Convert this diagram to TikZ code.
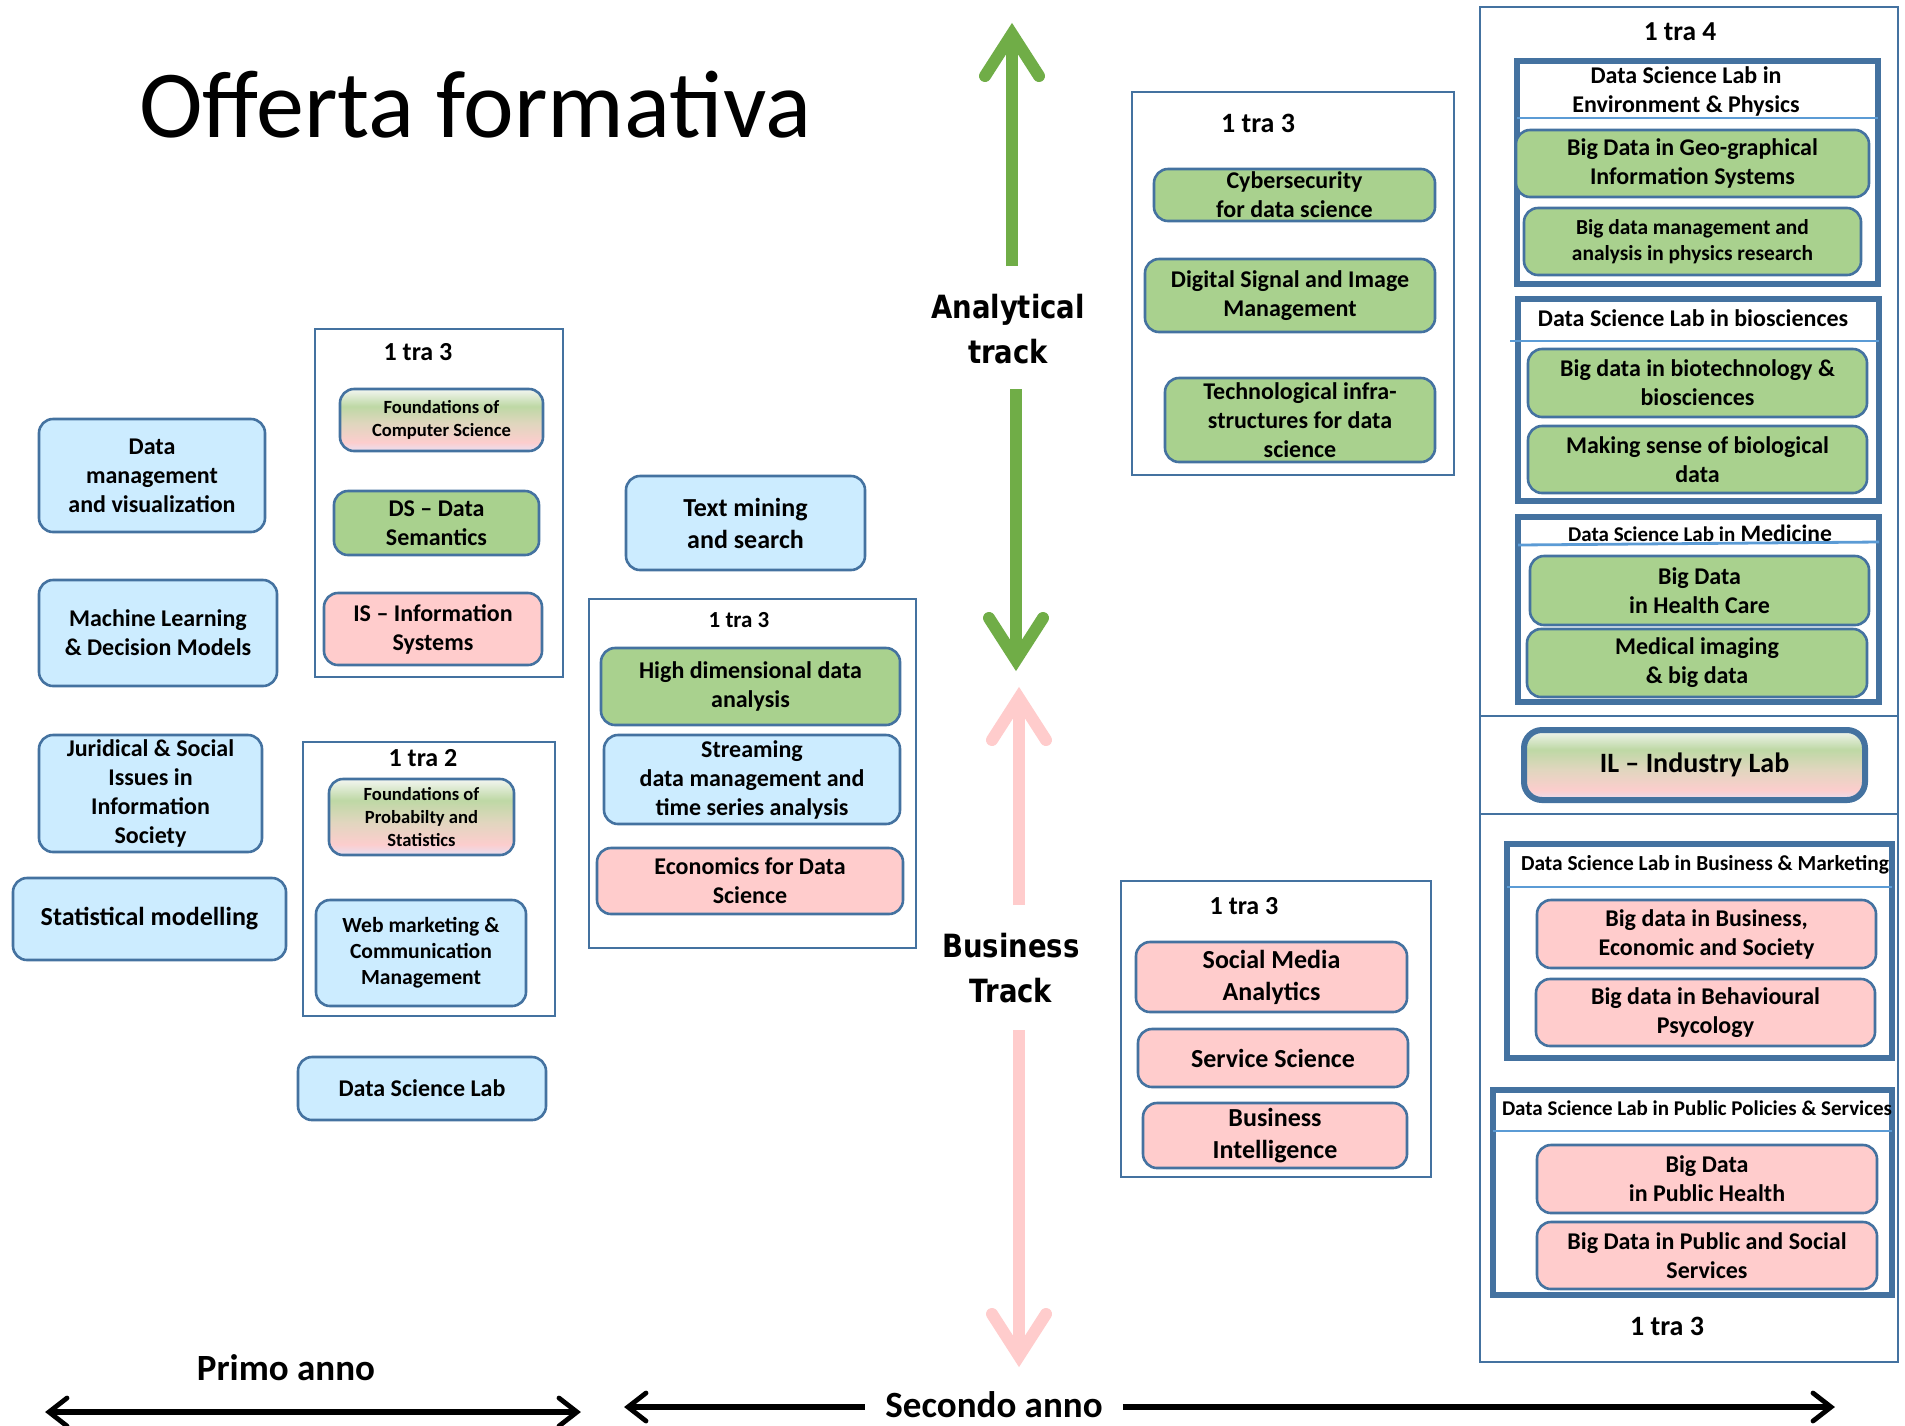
\documentclass[tikz,border=0pt]{standalone}
\usepackage{fontspec}
\setmainfont{Carlito}
\newfontfamily\trackfont{DejaVu Sans}[FakeStretch=0.86]
\definecolor{bord}{RGB}{68,114,160}
\definecolor{fblue}{RGB}{204,236,255}
\definecolor{fgreen}{RGB}{169,209,142}
\definecolor{fpink}{RGB}{255,204,204}
\definecolor{sepc}{RGB}{91,155,213}
\definecolor{agreen}{RGB}{112,173,71}
\definecolor{apink}{RGB}{255,204,204}
\definecolor{gpA}{RGB}{232,224,242}
\definecolor{gpB}{RGB}{252,205,205}
\definecolor{gpC}{RGB}{224,214,190}
\definecolor{gpD}{RGB}{190,216,165}
\definecolor{gpE}{RGB}{243,246,241}
\pgfdeclareverticalshading{gpshade}{100bp}{color(0bp)=(gpA); color(25bp)=(gpA); color(32bp)=(gpB); color(47bp)=(gpC); color(61bp)=(gpD); color(75bp)=(gpE); color(100bp)=(gpE)}
\newcommand\rb[7]{\node[#6, minimum width={(#4-#2)*0.5pt}, minimum height={(#5-#3)*0.5pt}] (#1) at ({(#2+#4)/2},{(#3+#5)/2}) {#7};}
\tikzset{
  base/.style={rounded corners=7pt, draw=bord, line width=1.3pt, inner sep=0pt, align=center, font=\bfseries\fontsize{12}{14.5}\selectfont},
  bluebox/.style={base, fill=fblue},
  greenbox/.style={base, fill=fgreen},
  pinkbox/.style={base, fill=fpink},
  gradbox/.style={base, shading=gpshade},
  frame/.style={draw=bord, line width=1pt, inner sep=0pt},
  labframe/.style={draw=bord, line width=3pt, inner sep=0pt},
  tra/.style={font=\bfseries\fontsize{13}{15}\selectfont, inner sep=0pt},
  hdr/.style={font=\bfseries\fontsize{12}{14.5}\selectfont, align=center, inner sep=0pt},
  sepline/.style={draw=sepc, line width=1.4pt},
  trk/.style={font=\trackfont\bfseries\fontsize{16}{22.5}\selectfont, align=center, inner sep=0pt},
  gshaft/.style={draw=agreen, line width=6pt},
  ghead/.style={draw=agreen, line width=6pt, line cap=round, line join=miter},
  pshaft/.style={draw=apink, line width=6pt},
  phead/.style={draw=apink, line width=6pt, line cap=round, line join=miter},
  kshaft/.style={draw=black, line width=3pt},
  khead/.style={draw=black, line width=2.4pt, line cap=round, line join=miter},
  f13/.style={font=\bfseries\fontsize{13}{16}\selectfont},
  f9/.style={font=\bfseries\fontsize{9.3}{11.5}\selectfont},
  yr/.style={font=\bfseries\fontsize{18.5}{22}\selectfont, inner sep=0pt}
}
\begin{document}
\begin{tikzpicture}[x=0.5pt,y=-0.5pt]
\fill[white] (0,0) rectangle (1905,1425);
\useasboundingbox (0,0) rectangle (1905,1425);

% title
\node[anchor=base west, font=\fontsize{48}{57}\selectfont, inner sep=0pt] (title) at (139,137) {Offerta formativa};

% first year, left column
\rb{dmv}{39}{419}{265}{532}{bluebox}{Data\\management\\and visualization}
\rb{ml}{39}{580}{277}{686}{bluebox}{Machine Learning\\\& Decision Models}
\rb{jur}{39}{735}{262}{852}{bluebox}{Juridical \& Social\\Issues in\\Information\\Society}
\rb{stat}{13}{878}{286}{960}{bluebox,f13}{Statistical modelling}

% first year, second column
\rb{g1}{315}{329}{563}{677}{frame}{}
\node[tra] (g1l) at (418,352) {1 tra 3};
\rb{fcs}{340}{389}{543}{451}{gradbox,f9}{Foundations of\\Computer Science}
\rb{dsd}{334}{491}{539}{555}{greenbox}{DS – Data\\Semantics}
\rb{isy}{324}{593}{542}{665}{pinkbox}{IS – Information\\Systems}

\rb{g2}{303}{742}{555}{1016}{frame}{}
\node[tra] (g2l) at (423,758) {1 tra 2};
\rb{fps}{329}{779}{514}{855}{gradbox,f9}{Foundations of\\Probabilty and\\Statistics}
\rb{web}{316}{900}{526}{1006}{bluebox,font=\bfseries\fontsize{10.8}{13}\selectfont}{Web marketing \&\\Communication\\Management}
\rb{dsl}{298}{1057}{546}{1120}{bluebox}{Data Science Lab}

% second year, column 3
\rb{tms}{626}{476}{865}{570}{bluebox,f13}{Text mining\\and search}
\rb{g3}{589}{599}{916}{948}{frame}{}
\node[tra,font=\bfseries\fontsize{11.5}{14}\selectfont] (g3l) at (739,620) {1 tra 3};
\rb{hdd}{601}{648}{900}{725}{greenbox}{High dimensional data\\analysis}
\rb{str}{604}{735}{900}{824}{bluebox}{Streaming\\data management and\\time series analysis}
\rb{eco}{597}{848}{903}{914}{pinkbox}{Economics for Data\\Science}

% tracks
\coordinate (gt) at (1012,34);
\coordinate (gs1) at (1012,266);
\coordinate (gs2) at (1016,389);
\coordinate (gb) at (1016,660);
\draw[gshaft] (gs1) -- (1012,42);
\draw[ghead] (gt) ++(-27,42) -- (gt) -- ++(27,42);
\draw[gshaft] (gs2) -- (1016,652);
\draw[ghead] (gb) ++(-27,-42) -- (gb) -- ++(27,-42);
\node[trk] (atr) at (1008,329) {Analytical\\track};

\coordinate (pt) at (1019,698);
\coordinate (ps1) at (1019,905);
\coordinate (ps2) at (1019,1030);
\coordinate (pb) at (1019,1356);
\draw[pshaft] (ps1) -- (1019,706);
\draw[phead] (pt) ++(-27,42) -- (pt) -- ++(27,42);
\draw[pshaft] (ps2) -- (1019,1348);
\draw[phead] (pb) ++(-27,-42) -- (pb) -- ++(27,-42);
\node[trk] (btr) at (1011,968) {Business\\Track};

% column 4
\rb{g4}{1132}{92}{1454}{475}{frame}{}
\node[tra,font=\bfseries\fontsize{14}{16}\selectfont] (g4l) at (1258,123) {1 tra 3};
\rb{cyb}{1154}{169}{1435}{221}{greenbox}{Cybersecurity\\for data science}
\rb{dsi}{1145}{259}{1435}{332}{greenbox}{Digital Signal and Image\\Management}
\rb{tec}{1165}{378}{1435}{462}{greenbox}{Technological infra-\\structures for data\\science}

\rb{g5}{1121}{881}{1431}{1177}{frame}{}
\node[tra] (g5l) at (1244,906) {1 tra 3};
\rb{sma}{1136}{942}{1407}{1012}{pinkbox,f13}{Social Media\\Analytics}
\rb{ssc}{1138}{1029}{1408}{1087}{pinkbox,f13}{Service Science}
\rb{bin}{1143}{1103}{1407}{1168}{pinkbox,f13}{Business\\Intelligence}

% right column
\rb{o1}{1480}{7}{1898}{716}{frame}{}
\rb{o2}{1480}{716}{1898}{814}{frame}{}
\rb{o3}{1480}{814}{1898}{1362}{frame}{}
\node[tra,font=\bfseries\fontsize{13.7}{16}\selectfont] (o1l) at (1680,32) {1 tra 4};

\rb{lep}{1517}{61}{1878}{284}{labframe}{}
\node[hdr] (lepH) at (1686,91) {Data Science Lab in\\Environment \& Physics};
\draw[sepline] (1517,118) -- (1878,118);
\rb{geo}{1516}{130}{1869}{197}{greenbox}{Big Data in Geo-graphical\\Information Systems}
\rb{phy}{1524}{208}{1861}{275}{greenbox,font=\bfseries\fontsize{10.7}{13}\selectfont}{Big data management and\\analysis in physics research}

\rb{lbio}{1518}{299}{1879}{501}{labframe}{}
\node[hdr] (lbioH) at (1693,318) {Data Science Lab in biosciences};
\draw[sepline] (1510,341) -- (1879,341);
\rb{bio}{1528}{349}{1867}{417}{greenbox}{Big data in biotechnology \&\\biosciences}
\rb{mak}{1528}{426}{1867}{493}{greenbox}{Making sense of biological\\data}

\rb{lmed}{1518}{517}{1879}{702}{labframe}{}
\node[hdr] (lmedH) at (1700,533) {{\fontsize{10.5}{13}\selectfont Data Science Lab in} {\fontsize{11.8}{14}\selectfont Medicine}};
\draw[sepline] (1518,545) -- (1879,542);
\rb{hc}{1530}{556}{1869}{625}{greenbox}{Big Data\\in Health Care}
\rb{mi}{1527}{629}{1867}{697}{greenbox}{Medical imaging\\\& big data}

\rb{il}{1524}{730}{1865}{800}{gradbox,line width=3pt,rounded corners=9pt,font=\bfseries\fontsize{14}{16}\selectfont}{IL – Industry Lab}

\rb{lbm}{1507}{844}{1892}{1058}{labframe}{}
\node[hdr,font=\bfseries\fontsize{10.7}{13}\selectfont] (lbmH) at (1705,865) {Data Science Lab in Business \& Marketing};
\draw[sepline] (1507,887) -- (1892,887);
\rb{bes}{1537}{900}{1876}{968}{pinkbox}{Big data in Business,\\Economic and Society}
\rb{bbp}{1536}{979}{1875}{1046}{pinkbox}{Big data in Behavioural\\Psycology}

\rb{lpp}{1493}{1090}{1892}{1295}{labframe}{}
\node[hdr,font=\bfseries\fontsize{10.5}{13}\selectfont] (lppH) at (1697,1108) {Data Science Lab in Public Policies \& Services};
\draw[sepline] (1493,1131) -- (1892,1131);
\rb{bph}{1537}{1145}{1877}{1213}{pinkbox}{Big Data\\in Public Health}
\rb{bps}{1537}{1222}{1877}{1289}{pinkbox}{Big Data in Public and Social\\Services}
\node[tra,font=\bfseries\fontsize{14}{16}\selectfont] (o3l) at (1667,1326) {1 tra 3};

% years
\node[yr] (primo) at (286,1368) {Primo anno};
\coordinate (pL) at (49,1412);
\coordinate (pR) at (577,1412);
\draw[kshaft] (pL) -- (pR);
\draw[khead] (pL) ++(18,-14) -- (pL) -- ++(18,14);
\draw[khead] (pR) ++(-18,-14) -- (pR) -- ++(-18,14);

\node[yr, inner xsep=10pt] (sec) at (994,1405) {Secondo anno};
\coordinate (sL) at (628,1407);
\coordinate (sR) at (1831,1407);
\draw[kshaft] (sL) -- (sec.west |- sL);
\draw[kshaft] (sec.east |- sR) -- (sR);
\draw[khead] (sL) ++(18,-14) -- (sL) -- ++(18,14);
\draw[khead] (sR) ++(-18,-14) -- (sR) -- ++(-18,14);
\end{tikzpicture}
\end{document}
